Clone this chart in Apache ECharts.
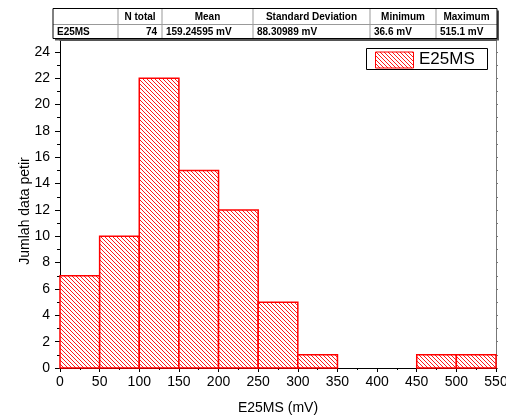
<!DOCTYPE html>
<html>
<head>
<meta charset="utf-8">
<script src="https://cdn.jsdelivr.net/npm/echarts@6/dist/echarts.min.js"></script>
<style>
  html, body { margin: 0; padding: 0; background: #fff; }
  #chart { width: 506px; height: 416px; }
</style>
</head>
<body>
<div id="chart"></div>
<script>
// Histogram bins (mV) and counts per bin
const binStarts = [0, 50, 100, 150, 200, 250, 300, 350, 400, 450, 500];
const binWidth = 50;
const counts = [7, 10, 22, 15, 12, 5, 1, 0, 0, 1, 1];
const seriesName = 'E25MS';

// Axis ticks
const yMajorTicks = [0, 2, 4, 6, 8, 10, 12, 14, 16, 18, 20, 22, 24];
const yMinorTicks = [1, 3, 5, 7, 9, 11, 13, 15, 17, 19, 21, 23];
const yAllTicks = [0, 1, 2, 3, 4, 5, 6, 7, 8, 9, 10, 11, 12, 13, 14, 15, 16, 17, 18, 19, 20, 21, 22, 23, 24];

// Statistics table
const tableHeaders = ['', 'N total', 'Mean', 'Standard Deviation', 'Minimum', 'Maximum'];
const tableRow = ['E25MS', '74', '159.24595 mV', '88.30989 mV', '36.6 mV', '515.1 mV'];

const FONT = 'Arial, "Liberation Sans", sans-serif';
const RED = '#ff0000';

// Diagonal hatch pattern (lines running top-left to bottom-right)
function makeHatch() {
  const n = 16, step = 4;
  const c = document.createElement('canvas');
  c.width = n; c.height = n;
  const ctx = c.getContext('2d');
  ctx.fillStyle = '#ffffff';
  ctx.fillRect(0, 0, n, n);
  ctx.strokeStyle = RED;
  ctx.lineWidth = 0.9;
  for (let k = -n; k <= 2 * n; k += step) {
    ctx.beginPath();
    ctx.moveTo(k, 0);
    ctx.lineTo(k + n, n);
    ctx.stroke();
  }
  return c;
}
const hatch = makeHatch();

const histData = binStarts.map((s, i) => [s, s + binWidth, counts[i]]);

// Table layout
const colEdges = [53, 118, 162, 253, 370, 436, 497];
const tTop = 8.5, tMid = 24.5, tBot = 38.5;
const tableGraphics = [];
tableGraphics.push({ type: 'rect', shape: { x: colEdges[0] + 2, y: tTop + 2, width: colEdges[6] - colEdges[0], height: tBot - tTop }, style: { fill: '#555' }, z: 100 });
tableGraphics.push({ type: 'rect', shape: { x: colEdges[0], y: tTop, width: colEdges[6] - colEdges[0], height: tBot - tTop }, style: { fill: '#fff' }, z: 101 });
tableGraphics.push({ type: 'line', shape: { x1: colEdges[0], y1: tMid, x2: colEdges[6], y2: tMid }, style: { stroke: '#999', lineWidth: 1 }, z: 102 });
for (let i = 1; i < colEdges.length - 1; i++) {
  tableGraphics.push({ type: 'line', shape: { x1: colEdges[i], y1: tTop, x2: colEdges[i], y2: tBot }, style: { stroke: '#999', lineWidth: 1 }, z: 102 });
}
tableGraphics.push({ type: 'rect', shape: { x: colEdges[0], y: tTop, width: colEdges[6] - colEdges[0], height: tBot - tTop }, style: { fill: null, stroke: '#000', lineWidth: 1 }, z: 103 });
tableHeaders.forEach((h, i) => {
  tableGraphics.push({
    type: 'text', z: 104,
    style: { text: h, x: (colEdges[i] + colEdges[i + 1]) / 2, y: (tTop + tMid) / 2 + 0.5, align: 'center', verticalAlign: 'middle', font: 'bold 10px ' + FONT, fill: '#000' }
  });
});
tableRow.forEach((v, i) => {
  const right = i === 1;
  tableGraphics.push({
    type: 'text', z: 104,
    style: { text: v, x: right ? colEdges[i + 1] - 5 : colEdges[i] + 4, y: (tMid + tBot) / 2 + 0.5, align: right ? 'right' : 'left', verticalAlign: 'middle', font: 'bold 10px ' + FONT, fill: '#000' }
  });
});

// Legend box
const legendGraphics = [
  { type: 'rect', shape: { x: 366.5, y: 48.5, width: 121, height: 21 }, style: { fill: '#fff', stroke: '#000', lineWidth: 1 }, z: 100 },
  { type: 'rect', shape: { x: 375.5, y: 52, width: 38, height: 16 }, style: { fill: { image: hatch, repeat: 'repeat' }, stroke: RED, lineWidth: 1 }, z: 101 },
  { type: 'text', style: { text: seriesName, x: 419, y: 59.5, verticalAlign: 'middle', font: '17px ' + FONT, fill: '#000' }, z: 101 }
];

const chart = echarts.init(document.getElementById('chart'), null, { renderer: 'canvas' });
chart.setOption({
  animation: false,
  backgroundColor: '#fff',
  grid: { left: 60, right: 10, top: 40, bottom: 48, containLabel: false, outerBoundsMode: 'none' },
  xAxis: [{
    type: 'value', min: 0, max: 550, interval: 50,
    name: 'E25MS (mV)', nameLocation: 'middle', nameGap: 33, nameMoveOverlap: false,
    nameTextStyle: { fontFamily: FONT, fontSize: 14, color: '#000' },
    axisLine: { show: true, onZero: false, lineStyle: { color: '#000', width: 1 } },
    axisTick: { show: true, length: 4, lineStyle: { color: '#000' } },
    minorTick: { show: true, splitNumber: 2, length: 2, lineStyle: { color: '#000' } },
    axisLabel: { fontFamily: FONT, fontSize: 14, color: '#000', margin: 7, showMaxLabel: true, hideOverlap: false },
    splitLine: { show: false }
  }, {
    type: 'value', position: 'top', min: 0, max: 550, interval: 50,
    axisLine: { show: true, onZero: false, lineStyle: { color: '#555', width: 1 } },
    axisTick: { show: true, length: 2, lineStyle: { color: '#555' } },
    minorTick: { show: true, splitNumber: 2, length: 2, lineStyle: { color: '#555' } },
    axisLabel: { show: false },
    splitLine: { show: false }
  }],
  yAxis: [{
    type: 'value', min: 0, max: 24.9, interval: 2,
    name: 'Jumlah data petir', nameLocation: 'middle', nameGap: 28, nameMoveOverlap: false,
    nameTextStyle: { fontFamily: FONT, fontSize: 14, color: '#000', padding: [0, 14, 0, 0] },
    axisLine: { show: true, onZero: false, lineStyle: { color: '#000', width: 1 } },
    axisTick: { show: true, length: 5, customValues: yMajorTicks, lineStyle: { color: '#000' } },
    axisLabel: { fontFamily: FONT, fontSize: 14, color: '#000', margin: 10, customValues: yMajorTicks },
    splitLine: { show: false }
  }, {
    type: 'value', position: 'left', min: 0, max: 24.9, interval: 2,
    axisLine: { show: false },
    axisTick: { show: true, length: 3, customValues: yMinorTicks, lineStyle: { color: '#000' } },
    axisLabel: { show: false },
    splitLine: { show: false }
  }, {
    type: 'value', position: 'right', min: 0, max: 24.9, interval: 2,
    axisLine: { show: true, onZero: false, lineStyle: { color: '#777', width: 1 } },
    axisTick: { show: true, length: 2, customValues: yAllTicks, lineStyle: { color: '#777' } },
    axisLabel: { show: false },
    splitLine: { show: false }
  }],
  series: [{
    type: 'custom',
    name: seriesName,
    xAxisIndex: 0,
    yAxisIndex: 0,
    data: histData,
    encode: { x: [0, 1], y: 2 },
    renderItem: function (params, api) {
      const v = api.value(2);
      if (!v) return null;
      const p0 = api.coord([api.value(0), 0]);
      const p1 = api.coord([api.value(1), v]);
      return {
        type: 'rect',
        shape: { x: p0[0], y: p1[1], width: p1[0] - p0[0], height: p0[1] - p1[1] },
        style: { fill: { image: hatch, repeat: 'repeat' }, stroke: RED, lineWidth: 1.5 }
      };
    }
  }],
  graphic: tableGraphics.concat(legendGraphics)
});
</script>
</body>
</html>
